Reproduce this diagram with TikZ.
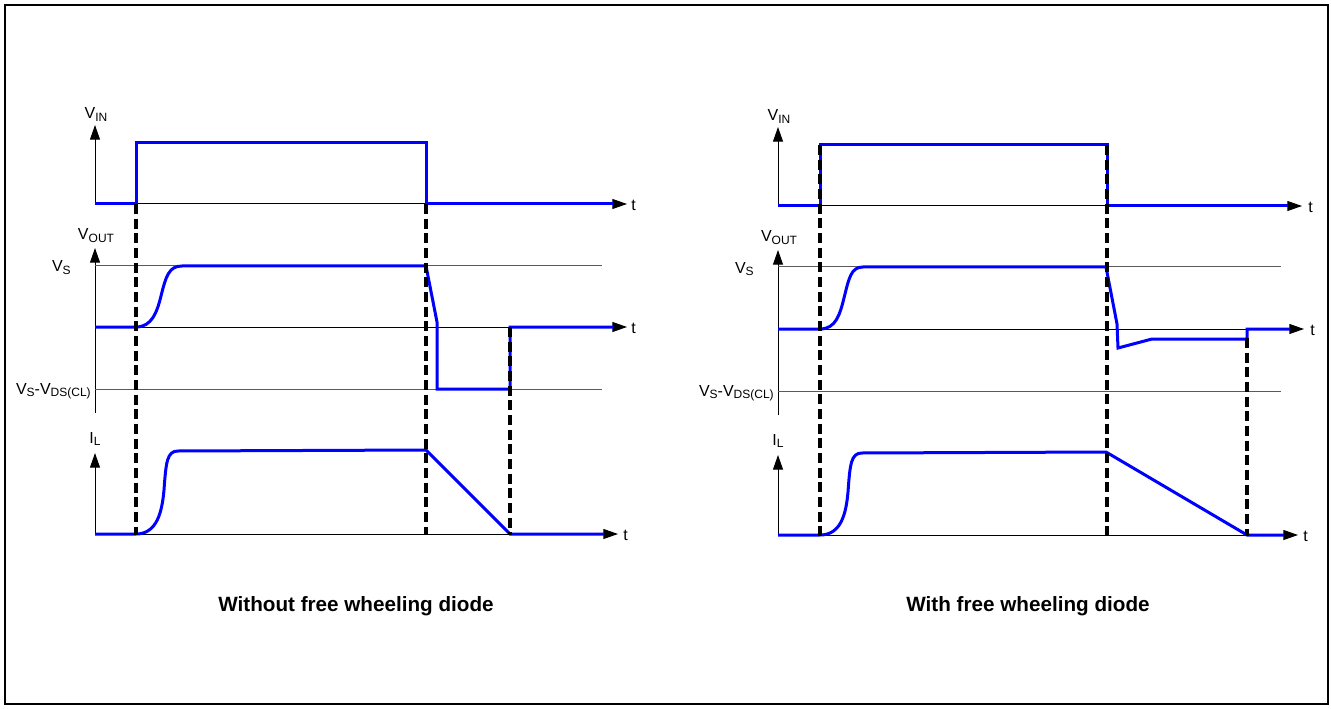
\documentclass[tikz,border=0pt]{standalone}
\usepackage{fontspec}
\setmainfont{Liberation Sans}
\usepackage{tikz}
\usetikzlibrary{arrows.meta, positioning}
\usepackage{xcolor}
\definecolor{signalblue}{RGB}{0, 0, 255}
\definecolor{refgray}{RGB}{90, 90, 90}
\newcommand{\lowsub}[1]{\raisebox{-0.3ex}{\fontsize{9}{9}\selectfont #1}}
\tikzset{
    axis line/.style={
        -{Triangle[length=11pt, width=7.5pt]},
        line width=0.75pt,
        draw=black
    },
    ref line/.style={
        line width=0.75pt,
        draw=refgray
    },
    signal/.style={
        line width=2.25pt,
        draw=signalblue
    },
    marker line/.style={
        line width=2.4pt,
        draw=black,
        dash pattern=on 7.5pt off 3.5pt
    },
    axis label/.style={
        inner sep=0pt,
        font=\fontsize{12}{12}\selectfont
    },
    caption/.style={
        inner sep=0pt,
        font=\fontsize{15.5}{16}\selectfont\bfseries
    }
}

\begin{document}
\begin{tikzpicture}[x=0.75pt, y=-0.75pt]

\useasboundingbox (0,0) rectangle (1331,709);

% Frame
\draw[line width=1.2pt] (5,5) rectangle (1328,704);

% === LEFT: WITHOUT FREE WHEELING DIODE ===

% V_IN
\draw[axis line] (95,204) -- (95,125);
\draw[axis line] (95,204) -- (627,204);
\node[axis label, anchor=base] (vinL) at (96,119) {V\lowsub{IN}};
\node[axis label, anchor=west] (tinL) at (631,205) {t};
\draw[signal] (95,204) -- (136,204) -- (136,143) -- (426,143) -- (426,204) -- (613,204);

% V_OUT
\draw[axis line] (95,413) -- (95,248);
\draw[axis line] (95,327) -- (627,327);
\draw[ref line] (95,266) -- (602,266);
\draw[ref line] (95,389) -- (602,389);
\node[axis label, anchor=base] (voutL) at (96,240) {V\lowsub{OUT}};
\node[axis label, anchor=base east] (vsL) at (71,272) {V\lowsub{S}};
\node[axis label, anchor=base east] (vclL) at (91,394) {V\lowsub{S}-V\lowsub{DS(CL)}};
\node[axis label, anchor=west] (toutL) at (631,328) {t};
\draw[signal] (95,327) -- (136,327)
    .. controls (152,327) and (157,312) .. (161,296)
    .. controls (166,276) and (169,266) .. (182,266)
    -- (426,266) -- (437,322) -- (437,389) -- (510,389) -- (510,327) -- (613,327);

% I_L
\draw[axis line] (95,534) -- (95,453);
\draw[axis line] (95,534) -- (618,534);
\node[axis label, anchor=base] (ilL) at (95,443) {I\lowsub{L}};
\node[axis label, anchor=west] (tilL) at (623,535) {t};
\draw[signal] (95,534) -- (136,534)
    .. controls (157,534) and (162,512) .. (164,490)
    .. controls (166,462) and (167,451) .. (178,451)
    -- (426,450) -- (510,534) -- (604,534);

% Switching instants
\draw[marker line] (136,204) -- (136,535);
\draw[marker line] (426,204) -- (426,535);
\draw[marker line] (510,327) -- (510,535);

\node[caption] (capL) at (356,606) {Without free wheeling diode};

% === RIGHT: WITH FREE WHEELING DIODE ===

% V_IN
\draw[axis line] (778,206) -- (778,127);
\draw[axis line] (778,206) -- (1302,206);
\node[axis label, anchor=base] (vinR) at (779,121) {V\lowsub{IN}};
\node[axis label, anchor=west] (tinR) at (1308,207) {t};
\draw[signal] (778,206) -- (820,206) -- (820,145) -- (1107,145) -- (1107,206) -- (1288,206);

% V_OUT
\draw[axis line] (778,415) -- (778,250);
\draw[axis line] (778,329) -- (1304,329);
\draw[ref line] (778,267) -- (1281,267);
\draw[ref line] (778,391) -- (1281,391);
\node[axis label, anchor=base] (voutR) at (779,242) {V\lowsub{OUT}};
\node[axis label, anchor=base east] (vsR) at (754,273) {V\lowsub{S}};
\node[axis label, anchor=base east] (vclR) at (774,396) {V\lowsub{S}-V\lowsub{DS(CL)}};
\node[axis label, anchor=west] (toutR) at (1310,330) {t};
\draw[signal] (778,329) -- (820,329)
    .. controls (836,329) and (840,314) .. (844,298)
    .. controls (849,278) and (851,267) .. (863,267)
    -- (1106,267) -- (1117,324) -- (1118,348) -- (1152,339) -- (1247,339) -- (1247,329) -- (1290,329);

% I_L
\draw[axis line] (778,535) -- (778,455);
\draw[axis line] (778,535) -- (1298,535);
\node[axis label, anchor=base] (ilR) at (778,445) {I\lowsub{L}};
\node[axis label, anchor=west] (tilR) at (1303,536) {t};
\draw[signal] (778,535) -- (820,535)
    .. controls (841,535) and (846,514) .. (848,492)
    .. controls (850,464) and (851,453) .. (862,453)
    -- (1106,452) -- (1247,535) -- (1284,535);

% Switching instants
\draw[marker line] (820,145) -- (820,536);
\draw[marker line] (1107,145) -- (1107,536);
\draw[marker line] (1247,338) -- (1247,536);

\node[caption] (capR) at (1028,606) {With free wheeling diode};

\end{tikzpicture}
\end{document}
